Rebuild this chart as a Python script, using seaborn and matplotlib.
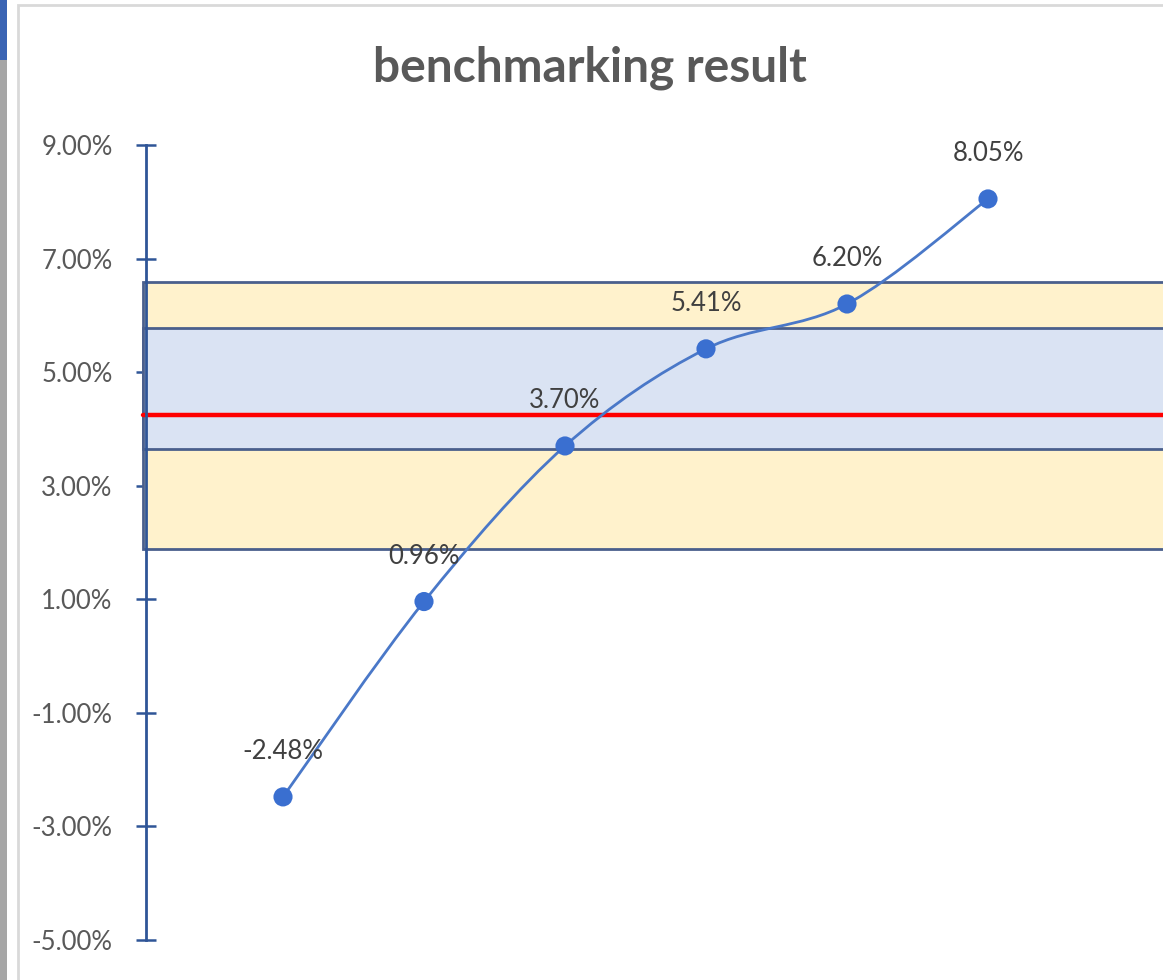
import numpy as np
import pandas as pd
import matplotlib
matplotlib.use("Agg")
import matplotlib.pyplot as plt
from matplotlib.path import Path
from matplotlib.patches import PathPatch, Rectangle
from matplotlib.ticker import FuncFormatter
import seaborn as sns

# ---------------- data ----------------
x_positions = [1, 2, 3, 4, 5, 6]
values = [-2.48, 0.96, 3.70, 5.41, 6.20, 8.05]
value_labels = ["-2.48%", "0.96%", "3.70%", "5.41%", "6.20%", "8.05%"]
outer_range = [1.89, 6.59]   # yellow band
inner_range = [3.65, 5.78]   # blue band
median_value = [4.25]        # red line
y_ticks = [-5, -3, -1, 1, 3, 5, 7, 9]

title = "benchmarking result"

# ---------------- style ----------------
sns.set_style("white")
plt.rcParams["font.family"] = ["Lato", "DejaVu Sans"]

W, H = 1163, 980
fig = plt.figure(figsize=(W / 100, H / 100), dpi=100)

# screenshot frame (window edge + chart border)
fig.patches.append(Rectangle((0, 0), 7 / W, 1, transform=fig.transFigure,
                             facecolor="#a6a6a6", edgecolor="none", zorder=0))
fig.patches.append(Rectangle((0, 1 - 60 / H), 7 / W, 60 / H, transform=fig.transFigure,
                             facecolor="#3a64b4", edgecolor="none", zorder=0))
fig.patches.append(Rectangle((18 / W, -0.01), 1.2, 1 - 5 / H + 0.01, transform=fig.transFigure,
                             facecolor="none", edgecolor="#d9d9d9", linewidth=2, zorder=0))

ax_left = 146 / W
ax_bottom = 1 - 940 / H
ax_top = 1 - 145 / H
ax = fig.add_axes([ax_left, ax_bottom, 1.0 - ax_left, ax_top - ax_bottom])
ax.set_facecolor("none")

df = pd.DataFrame({"x": x_positions, "value": values})

# bands
band_edge = "#4a5f8c"
ax.axhspan(outer_range[0], outer_range[1], xmin=-0.003, xmax=1.05,
           facecolor="#fff2cc", edgecolor=band_edge, linewidth=2, zorder=1, clip_on=False)
ax.axhspan(inner_range[0], inner_range[1], xmin=-0.003, xmax=1.05,
           facecolor="#dae3f3", edgecolor=band_edge, linewidth=2, zorder=2, clip_on=False)
ax.axhline(median_value[0], xmin=-0.003, xmax=1.0, color="#ff0000", linewidth=3.2, zorder=3, clip_on=False)

# smooth connecting line (Bezier through the points, Excel-like smoothing)
pts = np.column_stack([df["x"].to_numpy(float), df["value"].to_numpy(float)])
n = len(pts)
verts = [tuple(pts[0])]
codes = [Path.MOVETO]
for i in range(n - 1):
    p_prev = pts[i - 1] if i > 0 else pts[i]
    p0 = pts[i]
    p1 = pts[i + 1]
    p_next = pts[i + 2] if i + 2 < n else pts[i + 1]
    c1 = p0 + (p1 - p_prev) / 6.0
    c2 = p1 - (p_next - p0) / 6.0
    verts += [tuple(c1), tuple(c2), tuple(p1)]
    codes += [Path.CURVE4] * 3
ax.add_patch(PathPatch(Path(verts, codes), facecolor="none", edgecolor="#4a78c8",
                       linewidth=2, zorder=4))

sns.scatterplot(data=df, x="x", y="value", ax=ax, s=190, color="#3a6fd0",
                edgecolor="none", zorder=5, legend=False)

for xv, yv, lab in zip(df["x"], df["value"], value_labels):
    ax.annotate(lab, (xv, yv), xytext=(0, 32.5), textcoords="offset points",
                ha="center", va="center", fontsize=18.5, color="#404040", zorder=6)

# axes
x0 = 4 / 141
ax.set_xlim(x0, x0 + (W - 146) / 141)
ax.set_ylim(-5, 9)
ax.set_yticks(y_ticks)
ax.yaxis.set_major_formatter(FuncFormatter(lambda v, p: f"{v:.2f}%"))
ax.tick_params(axis="y", left=True, direction="inout", length=14, width=1.8, color="#2f5597",
               labelsize=18.5, labelcolor="#595959", pad=17)
ax.set_xticks([])
ax.set_xlabel("")
ax.set_ylabel("")
for s in ["top", "right", "bottom"]:
    ax.spines[s].set_visible(False)
ax.spines["left"].set_color("#2f5597")
ax.spines["left"].set_linewidth(2)
ax.spines["left"].set_zorder(3.5)

fig.text(590 / W, 1 - 68 / H, title, ha="center", va="center",
         fontsize=34.5, fontweight="bold", color="#595959")

fig.savefig("out.png", dpi=100)
